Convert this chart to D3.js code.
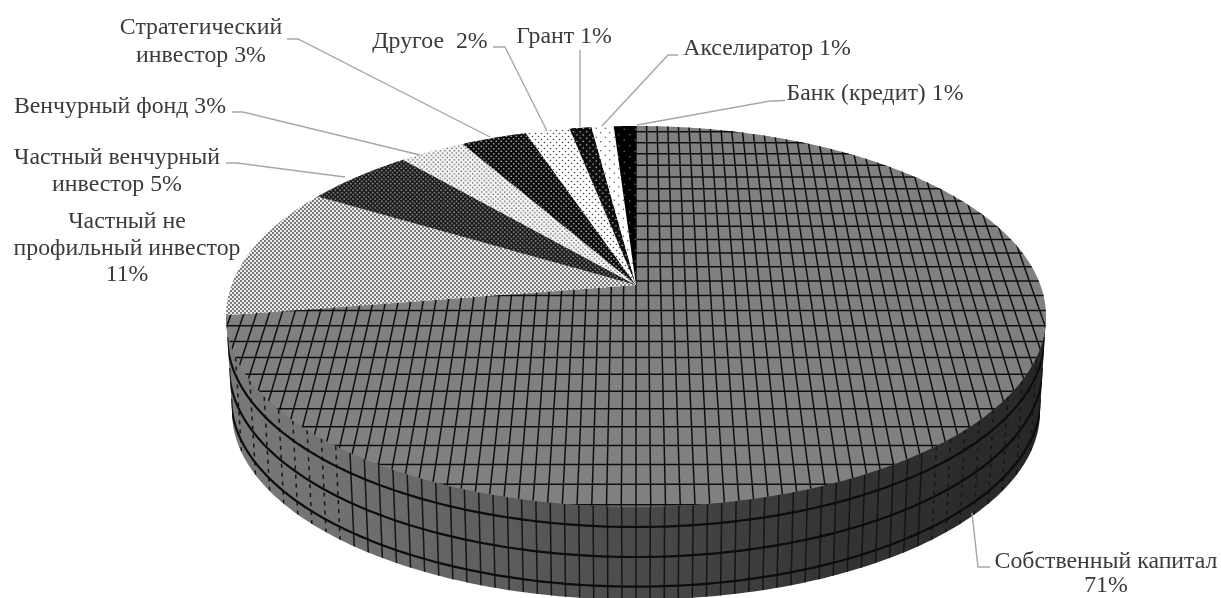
<!DOCTYPE html>
<html>
<head>
<meta charset="utf-8">
<style>
  html, body { margin: 0; padding: 0; background: #fff; }
  svg { display: block; }
  text { font-family: "Liberation Serif", serif; font-size: 23.8px; fill: #3a3a3a; white-space: pre; }
</style>
</head>
<body>
<div id="chart"></div>
<script src="https://cdnjs.cloudflare.com/ajax/libs/d3/7.8.5/d3.min.js"></script>
<script>
// data, clockwise from 12 o'clock (labels add up to 98, pie normalises)
var categories = ['Собственный капитал', 'Частный не профильный инвестор', 'Частный венчурный инвестор',
  'Венчурный фонд', 'Стратегический инвестор', 'Другое', 'Грант', 'Акселиратор', 'Банк (кредит)'];
var values = [71, 11, 5, 3, 3, 2, 1, 1, 1];
var labelLines = [
  ['Собственный капитал', '71%'],
  ['Частный не', 'профильный инвестор', '11%'],
  ['Частный венчурный', 'инвестор 5%'],
  ['Венчурный фонд 3%'],
  ['Стратегический', 'инвестор 3%'],
  ['Другое  2%'],
  ['Грант 1%'],
  ['Акселиратор 1%'],
  ['Банк (кредит) 1%']
];

// layout
var width = 1221, height = 598;
var cx = 636, apexY = 285;      // where the slices meet
var tilt = -0.165, scaleX = 404.4, scaleY = 185.2;   // circle -> perspective ellipse
var gridU = 0.0305, gridV = 0.078, gridV0 = 0.836;
var rimCy = 316.5, rimRx = 410, rimRy = 190.5;
var baseCy = 412, baseRx = 404, baseRy = 187.6;
var bandDepths = [0.216, 0.54, 0.86];

var labelAnchors = [
  {x: 1106, y: [568, 592]},
  {x: 127, y: [228, 255, 281]},
  {x: 117, y: [164, 191]},
  {x: 120, y: [113]},
  {x: 201, y: [34, 62]},
  {x: 430, y: [48]},
  {x: 564, y: [43]},
  {x: 767, y: [55]},
  {x: 875, y: [100]}
];
var leaders = [
  [[972, 513], [978, 567], [990, 567]],
  [],
  [[226, 163], [237, 163], [345, 177]],
  [[232, 112], [243, 112], [420, 155]],
  [[287, 39], [298, 39], [490, 137]],
  [[493, 47], [505, 47], [547, 131]],
  [[580, 50], [580, 127]],
  [[678, 55], [668, 55], [602, 126]],
  [[785, 100.5], [770, 101], [637, 125]]
];

var svg = d3.select('#chart').append('svg')
  .attr('width', width).attr('height', height)
  .attr('viewBox', '0 0 ' + width + ' ' + height);

var defs = svg.append('defs');

defs.append('filter').attr('id', 'soft')
  .attr('filterUnits', 'userSpaceOnUse')
  .attr('x', 0).attr('y', 0)
  .attr('width', width).attr('height', height)
  .append('feGaussianBlur').attr('stdDeviation', 0.4);

var sideFade = defs.append('linearGradient').attr('id', 'sideFade');
sideFade.selectAll('stop')
  .data([[0, '#7a7a7a'], [0.2, '#6c6c6c'], [0.5, '#4a4a4a'], [0.75, '#333'], [1, '#272727']])
  .enter().append('stop')
  .attr('offset', function(d) { return d[0]; })
  .attr('stop-color', function(d) { return d[1]; });

// dot lattice fills for the small slices
function dotPattern(id, size, bg, dot, r) {
  var p = defs.append('pattern').attr('id', id)
    .attr('patternUnits', 'userSpaceOnUse')
    .attr('width', size).attr('height', size);
  p.append('rect').attr('width', size).attr('height', size).attr('fill', bg);
  [[size / 4, size / 4], [size * 3 / 4, size * 3 / 4]].forEach(function(c) {
    p.append('circle').attr('cx', c[0]).attr('cy', c[1]).attr('r', r).attr('fill', dot);
  });
  return 'url(#' + id + ')';
}

var fills = [
  '#808080',
  dotPattern('p1', 4, '#ececec', '#444', 0.9),
  dotPattern('p2', 4.4, '#161616', '#989898', 0.9),
  dotPattern('p3', 4.6, '#f6f6f6', '#555', 0.8),
  dotPattern('p4', 5, '#0e0e0e', '#aaa', 0.85),
  dotPattern('p5', 6, '#fff', '#444', 0.8),
  dotPattern('p6', 6.5, '#0a0a0a', '#c4c4c4', 0.8),
  dotPattern('p7', 9, '#fff', '#444', 0.7),
  dotPattern('p8', 11, '#050505', '#777', 0.7)
];

// circle (u right, v towards the viewer) to screen
function project(u, v) {
  var w = 1 + tilt * v;
  return [cx + scaleX * u / w, apexY + scaleY * v / w];
}
function onCircle(a) {
  return project(Math.sin(a), -Math.cos(a));
}

var line = d3.line();
var pie = d3.pie().sort(null).value(function(d) { return d; });
var arcs = pie(values);

function slicePath(d) {
  var n = Math.max(2, Math.ceil((d.endAngle - d.startAngle) / 0.01));
  var pts = d3.range(n + 1).map(function(i) {
    return onCircle(d.startAngle + (d.endAngle - d.startAngle) * i / n);
  });
  return line([[cx, apexY]].concat(pts)) + 'Z';
}

// ellipse for a depth t down the side: 0 = rim, 1 = bottom edge
function sideEllipse(t) {
  return {
    cy: rimCy + (baseCy - rimCy) * t,
    rx: rimRx + (baseRx - rimRx) * t,
    ry: rimRy + (baseRy - rimRy) * t
  };
}
function lowerArc(t) {
  var e = sideEllipse(t);
  return d3.range(0, 181).map(function(i) {
    var a = Math.PI * i / 180;
    return [cx - e.rx * Math.cos(a), e.cy + e.ry * Math.sin(a)];
  });
}

var pieG = svg.append('g').attr('filter', 'url(#soft)');

// side wall
var sidePts = [[cx - rimRx, rimCy]].concat(lowerArc(1)).concat([[cx + rimRx, rimCy]]);
defs.append('clipPath').attr('id', 'sideClip').append('path').attr('d', line(sidePts) + 'Z');
pieG.append('path').attr('d', line(sidePts) + 'Z').attr('fill', 'url(#sideFade)');

var sideG = pieG.append('g').attr('clip-path', 'url(#sideClip)');
d3.range(-28, 29).forEach(function(i) {
  var r = i * 14.3 / rimRx;
  if (Math.abs(r) >= 1) return;
  var pts = [0, 1.05].map(function(t) {
    var e = sideEllipse(t);
    return [cx + r * e.rx, e.cy + e.ry * Math.sqrt(1 - r * r)];
  });
  sideG.append('path').attr('d', line(pts))
    .attr('fill', 'none').attr('stroke', '#161616').attr('stroke-width', 1.5)
    .attr('stroke-dasharray', Math.abs(r) > 0.72 ? '4 5' : null);
});
bandDepths.forEach(function(t) {
  sideG.append('path').attr('d', line(lowerArc(t)))
    .attr('fill', 'none').attr('stroke', '#0c0c0c').attr('stroke-width', 2.2);
});

// top face
pieG.selectAll('path.slice')
  .data(arcs).enter().append('path')
  .attr('class', 'slice')
  .attr('d', slicePath)
  .attr('fill', function(d, i) { return fills[i]; });

// grid texture on the big slice
defs.append('clipPath').attr('id', 'bigSlice').append('path').attr('d', slicePath(arcs[0]));
var gridG = pieG.append('g').attr('clip-path', 'url(#bigSlice)')
  .attr('fill', 'none').attr('stroke', '#101010').attr('stroke-width', 1.5);
d3.range(-33, 34).forEach(function(i) {
  gridG.append('path').attr('d', line([project(i * gridU, -1.05), project(i * gridU, 1.05)]));
});
d3.range(-24, 3).forEach(function(i) {
  var v = gridV0 + i * gridV;
  gridG.append('path').attr('d', line([project(-1.2, v), project(1.2, v)]));
});

// leader lines
var leaderG = svg.append('g').attr('filter', 'url(#soft)');
leaderG.selectAll('path')
  .data(leaders.filter(function(d) { return d.length; }))
  .enter().append('path')
  .attr('d', function(d) { return line(d); })
  .attr('fill', 'none').attr('stroke', '#a6a6a6').attr('stroke-width', 1.4);

// labels
var labelG = svg.append('g').attr('filter', 'url(#soft)');
labelLines.forEach(function(lines, i) {
  lines.forEach(function(t, j) {
    labelG.append('text')
      .attr('x', labelAnchors[i].x)
      .attr('y', labelAnchors[i].y[j])
      .attr('text-anchor', 'middle')
      .text(t);
  });
});
</script>
</body>
</html>
